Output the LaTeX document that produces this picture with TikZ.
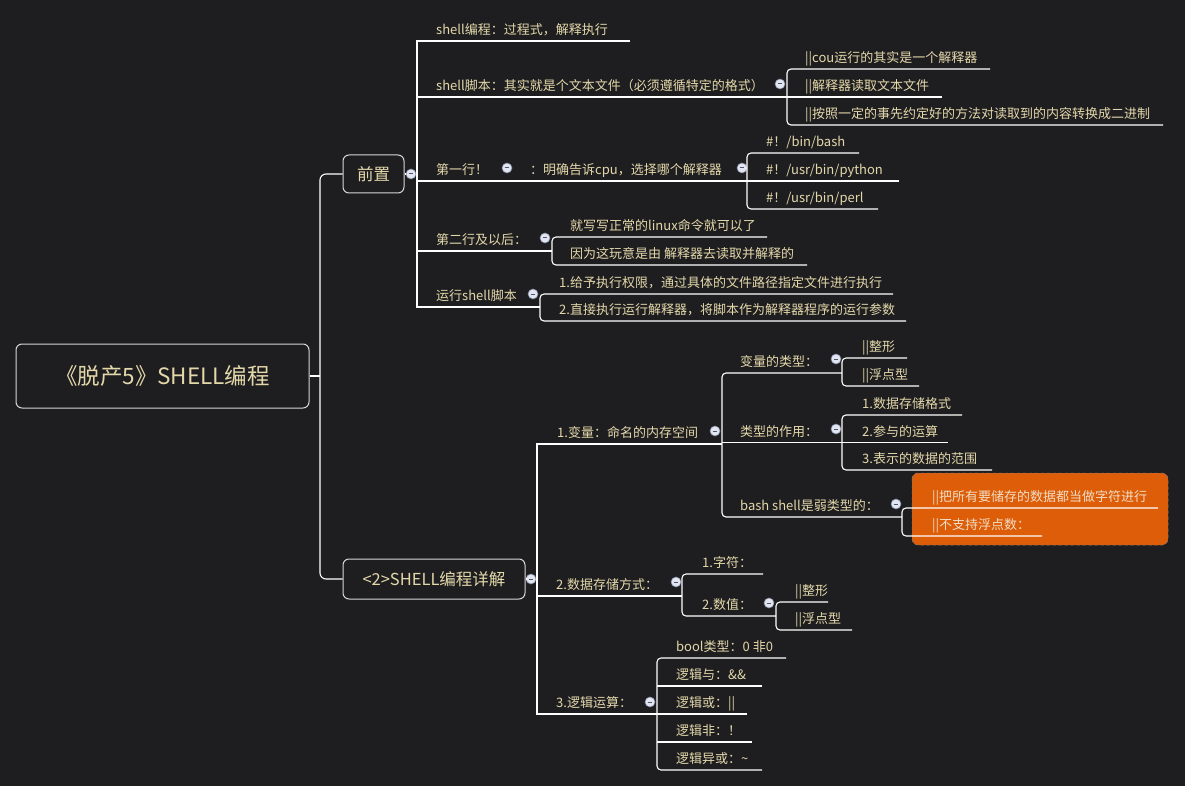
\documentclass[tikz,border=0pt]{standalone}
\usepackage{fontspec}
\setmainfont{Noto Sans CJK SC}
\definecolor{bg}{RGB}{30,30,33}
\definecolor{txtc}{RGB}{228,216,170}
\definecolor{otxt}{RGB}{242,222,196}
\definecolor{orng}{RGB}{221,93,9}
\definecolor{togfill}{RGB}{226,230,242}
\definecolor{togdraw}{RGB}{130,136,158}
\definecolor{togbar}{RGB}{80,84,100}
\definecolor{boxline}{RGB}{215,215,215}
\tikzset{
  line/.style={draw=white, line width=1.1pt},
  brk/.style={line, rounded corners=4pt},
  txt/.style={font=\fontsize{13}{15}\selectfont, text=txtc, inner sep=0pt, anchor=base west},
  otx/.style={txt, text=otxt},
  tog/.style={circle, minimum size=10pt, inner sep=0pt, fill=togfill, draw=togdraw, line width=0.6pt,
    path picture={\draw[togbar, line width=1pt] ([xshift=-2.4pt]path picture bounding box.center) -- ([xshift=2.4pt]path picture bounding box.center);}},
  topbox/.style={draw=boxline, line width=1pt, rounded corners=6pt, text=txtc, inner sep=0pt},
}
\begin{document}
\begin{tikzpicture}[x=1pt,y=-1pt]
\fill[bg] (0,0) rectangle (1185,786);
\useasboundingbox (0,0) rectangle (1185,786);

% ---------- root and main boxes ----------
\node[topbox, minimum width=293pt, minimum height=64pt, font=\fontsize{22.5}{26}\selectfont] (root) at (162.5,376) {《脱产5》SHELL编程};
\node[topbox, minimum width=61pt, minimum height=38pt, font=\fontsize{16.5}{19}\selectfont] (qz) at (373.5,174) {前置};
\node[topbox, minimum width=182pt, minimum height=40pt, font=\fontsize{16.5}{19}\selectfont] (d2) at (434,579) {<2>SHELL编程详解};
\coordinate (rj) at (320,376);
\draw[line] (root.east) -- (rj);
\draw[line, rounded corners=6pt] (qz.west) -- (320,174) -- (320,579) -- (d2.west);

% ---------- 前置 branch ----------
\node[tog] (tq) at (411,174) {};
\coordinate (qv) at (417,174);
\draw[line] (qz.east) -- (tq) -- (qv);
\draw[line] (630,41) -- (417,41) -- (417,307) -- (540,307);
\draw[line] (417,97) -- (787,97);
\draw[line] (417,181) -- (747,181);
\draw[line] (417,251) -- (552,251);

\node[txt] (a1) at (436,34.5) {shell编程：过程式，解释执行};

\node[txt] (a2) at (436,90.5) {shell脚本：其实就是个文本文件（必须遵循特定的格式）};
\node[tog] (ta2) at (780,84) {};
\draw[brk] (990,69) -- (787,69) -- (787,125) -- (1163,125);
\draw[line] (787,97) -- (942,97);
\node[txt] (a21) at (805,62.5) {||cou运行的其实是一个解释器};
\node[txt] (a22) at (805,90.5) {||解释器读取文本文件};
\node[txt] (a23) at (805,118.5) {||按照一定的事先约定好的方法对读取到的内容转换成二进制};

\node[txt] (a3) at (436,174.5) {第一行！};
\node[tog] (ta3a) at (507,168) {};
\node[txt] (a3b) at (530,174.5) {：明确告诉cpu，选择哪个解释器};
\node[tog] (ta3) at (742,168) {};
\draw[brk] (859,153) -- (747,153) -- (747,209) -- (878,209);
\draw[line] (747,181) -- (899,181);
\node[txt] (a31) at (766,146.5) {\#！/bin/bash};
\node[txt] (a32) at (766,174.5) {\#！/usr/bin/python};
\node[txt] (a33) at (766,202.5) {\#！/usr/bin/perl};

\node[txt] (a4) at (436,244.5) {第二行及以后：};
\node[tog] (ta4) at (545,238) {};
\draw[brk] (767,237) -- (552,237) -- (552,265) -- (807,265);
\node[txt] (a41) at (570,230.5) {就写写正常的linux命令就可以了};
\node[txt] (a42) at (570,258.5) {因为这玩意是由 解释器去读取并解释的};

\node[txt] (a5) at (436,300.5) {运行shell脚本};
\node[tog] (ta5) at (533,294) {};
\draw[brk] (893,294) -- (540,294) -- (540,321) -- (906,321);
\node[txt] (a51) at (559,287.5) {1.给予执行权限，通过具体的文件路径指定文件进行执行};
\node[txt] (a52) at (559,314.5) {2.直接执行运行解释器，将脚本作为解释器程序的运行参数};

% ---------- <2> branch ----------
\node[tog] (td2) at (531,579) {};
\coordinate (dv) at (537,579);
\draw[line] (d2.east) -- (td2) -- (dv);
\draw[line] (722,444) -- (537,444) -- (537,714) -- (657,714);
\draw[line] (537,596) -- (682,596);

% 1.变量
\node[txt] (b1) at (557,437.5) {1.变量：命名的内存空间};
\node[tog] (tb1) at (715,431) {};
\draw[brk] (842,373) -- (722,373) -- (722,517) -- (902,517);
\draw[line] (722,442.5) -- (842,442.5);

\node[txt] (b11) at (740,366.5) {变量的类型：};
\node[tog] (tb11) at (836,359) {};
\draw[brk] (907,358) -- (842,358) -- (842,386) -- (919,386);
\node[txt] (b111) at (862,351.5) {||整形};
\node[txt] (b112) at (862,379.5) {||浮点型};

\node[txt] (b12) at (740,436) {类型的作用：};
\node[tog] (tb12) at (836,429) {};
\draw[brk] (962,415) -- (842,415) -- (842,470) -- (992,470);
\draw[line] (842,442.5) -- (948,442.5);
\node[txt] (b121) at (862,408.5) {1.数据存储格式};
\node[txt] (b122) at (862,436) {2.参与的运算};
\node[txt] (b123) at (862,463.5) {3.表示的数据的范围};

\node[txt] (b13) at (740,510.5) {bash shell是弱类型的：};
\node[tog] (tb13) at (896,504) {};
\fill[orng, rounded corners=6pt] (912,473) rectangle (1168,545);
\draw[gray, dashed, line width=0.5pt, rounded corners=6pt] (912,473) rectangle (1168,545);
\draw[brk] (1158,508) -- (902,508) -- (902,536) -- (1042,536);
\node[otx] (b131) at (932,501.5) {||把所有要储存的数据都当做字符进行};
\node[otx] (b132) at (932,529.5) {||不支持浮点数：};

% 2.数据存储方式
\node[txt] (b2) at (556,589.5) {2.数据存储方式：};
\node[tog] (tb2) at (676,582) {};
\draw[brk] (763,574) -- (682,574) -- (682,616) -- (776,616);
\node[txt] (b21) at (702,567.5) {1.字符：};
\node[txt] (b22) at (702,609.5) {2.数值：};
\node[tog] (tb22) at (769,603) {};
\draw[brk] (828,602) -- (776,602) -- (776,630) -- (852,630);
\node[txt] (b221) at (795,595.5) {||整形};
\node[txt] (b222) at (795,623.5) {||浮点型};

% 3.逻辑运算
\node[txt] (b3) at (556,707.5) {3.逻辑运算：};
\node[tog] (tb3) at (650,702) {};
\draw[brk] (786,658) -- (657,658) -- (657,770) -- (762,770);
\draw[line] (657,686) -- (762,686);
\draw[line] (657,714) -- (747,714);
\draw[line] (657,742) -- (752,742);
\node[txt] (b31) at (676,651.5) {bool类型：0 非0};
\node[txt] (b32) at (676,679.5) {逻辑与：\&\&};
\node[txt] (b33) at (676,707.5) {逻辑或：||};
\node[txt] (b34) at (676,735.5) {逻辑非：！};
\node[txt] (b35) at (676,763.5) {逻辑异或：\textasciitilde};
\end{tikzpicture}
\end{document}
